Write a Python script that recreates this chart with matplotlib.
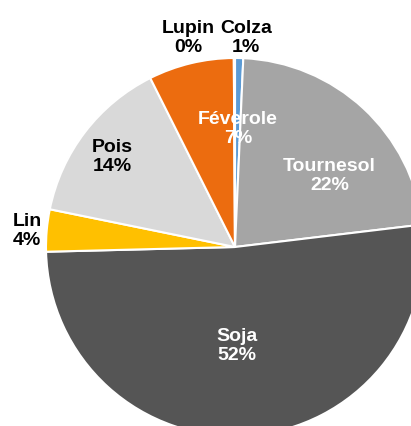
import matplotlib
matplotlib.use("Agg")
import matplotlib.pyplot as plt

# data (percent of area), clockwise from the top
crops = ["Colza", "Tournesol", "Soja", "Lin", "Pois", "Féverole", "Lupin"]
shares = [0.7, 22.4, 51.5, 3.6, 14.4, 7.3, 0.1]
colors = ["#5B9BD5", "#A5A5A5", "#555555", "#FFC000", "#D9D9D9", "#EC6C0F", "#F4B183"]
text_colors = ["black", "white", "white", "black", "black", "white", "black"]

# label centres, in pie radius units
label_xy = [(0.06, 1.11), (0.50, 0.38), (0.01, -0.52), (-1.10, 0.09),
            (-0.65, 0.48), (0.015, 0.63), (-0.245, 1.11)]

plt.rcParams["font.family"] = ["Liberation Sans", "DejaVu Sans"]

px = 189.0  # pie radius in pixels
fig = plt.figure(figsize=(4.11, 4.27), dpi=100)
ax = fig.add_axes([0, 0, 1, 1])

ax.pie(shares, colors=colors, startangle=90, counterclock=False, radius=1,
       wedgeprops=dict(edgecolor="white", linewidth=1.5))

for name, v, (x, y), c in zip(crops, shares, label_xy, text_colors):
    ax.text(x, y, "%s\n%d%%" % (name, round(v)), ha="center", va="center",
            fontsize=14, fontweight="bold", color=c, linespacing=1.15)

ax.set_aspect("auto")
ax.set_xlim(-235 / px, 176 / px)
ax.set_ylim(-179 / px, 248 / px)
ax.axis("off")

fig.savefig("out.png", dpi=100)
